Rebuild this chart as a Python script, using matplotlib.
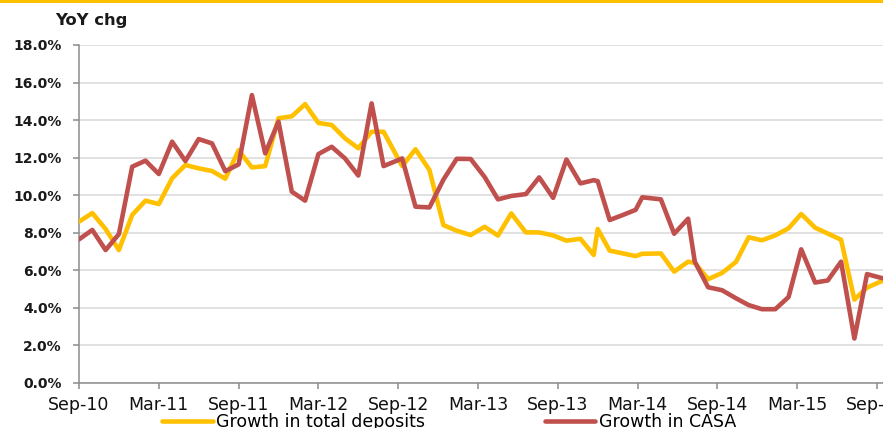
import matplotlib
matplotlib.use("Agg")
import matplotlib.pyplot as plt
from matplotlib.patches import Rectangle
from matplotlib.ticker import FuncFormatter

# ---------------- data ----------------
# x position in months since Sep-10 (reporting dates, slightly irregular)
x_months = [0, 1, 2, 3, 4, 5, 6, 7, 8, 9, 10, 11, 12, 13, 14, 15, 16, 17, 18, 19, 20, 21, 22,
            22.9, 24.3, 25.3, 26.35, 27.4, 28.4, 29.45, 30.5, 31.5, 32.5, 33.6, 34.6, 35.65,
            36.65, 37.7, 38.7, 39.0, 39.9, 40.9, 41.85, 42.35, 43.75, 44.75, 45.8, 46.3, 47.3,
            48.35, 49.4, 50.35, 51.35, 52.35, 53.35, 54.3, 55.35, 56.3, 57.3, 58.3, 59.25, 60.4]

total_deposits = [8.59, 9.05, 8.2, 7.08, 8.95, 9.71, 9.53, 10.9, 11.61, 11.43, 11.29, 10.88,
                  12.39, 11.48, 11.55, 14.1, 14.2, 14.85, 13.85, 13.74, 13.03, 12.5, 13.38,
                  13.38, 11.55, 12.45, 11.34, 8.41, 8.11, 7.88, 8.32, 7.85, 9.03, 8.02, 8.02,
                  7.86, 7.58, 7.68, 6.82, 8.2, 7.05, 6.9, 6.76, 6.88, 6.9, 5.93, 6.46, 6.4,
                  5.53, 5.86, 6.45, 7.76, 7.6, 7.86, 8.24, 9.0, 8.27, 7.96, 7.63, 4.44, 5.08, 5.44]

casa = [7.65, 8.15, 7.08, 7.93, 11.52, 11.84, 11.13, 12.85, 11.82, 12.99, 12.76, 11.28,
        11.64, 15.33, 12.23, 13.92, 10.19, 9.71, 12.19, 12.58, 11.96, 11.05, 14.89,
        11.55, 11.96, 9.39, 9.35, 10.83, 11.94, 11.93, 10.97, 9.78, 9.96, 10.06, 10.95,
        9.86, 11.9, 10.63, 10.8, 10.75, 8.68, 8.95, 9.22, 9.89, 9.78, 7.95, 8.75, 6.46,
        5.1, 4.94, 4.51, 4.15, 3.93, 3.93, 4.58, 7.12, 5.35, 5.46, 6.46, 2.37, 5.8, 5.58]

tick_months = [0, 6, 12, 18, 24, 30, 36, 42, 48, 54, 60]
tick_labels = ["Sep-10", "Mar-11", "Sep-11", "Mar-12", "Sep-12", "Mar-13",
               "Sep-13", "Mar-14", "Sep-14", "Mar-15", "Sep-15"]
y_ticks = [0, 2, 4, 6, 8, 10, 12, 14, 16, 18]

series_names = ["Growth in total deposits", "Growth in CASA"]
c_dep = "#FFC000"
c_casa = "#C0504D"

# ---------------- figure ----------------
W, H = 883, 428
fig = plt.figure(figsize=(W / 100, H / 100), dpi=100)
ax = fig.add_axes([79 / W, 45 / H, 811.3 / W, 338 / H])

l1, = ax.plot(x_months, total_deposits, color=c_dep, lw=3.3,
              solid_joinstyle="round", solid_capstyle="round", zorder=3)
l2, = ax.plot(x_months, casa, color=c_casa, lw=3.3,
              solid_joinstyle="round", solid_capstyle="round", zorder=4)

ax.set_xlim(0, 61)
ax.set_ylim(0, 18)
ax.set_yticks(y_ticks)
ax.yaxis.set_major_formatter(FuncFormatter(lambda v, p: f"{v:.1f}%"))
ax.set_xticks(tick_months)
ax.set_xticklabels(tick_labels)

ax.grid(axis="y", color="#D9D9D9", lw=1.1)
ax.set_axisbelow(True)
for s in ["top", "right"]:
    ax.spines[s].set_visible(False)
for s in ["left", "bottom"]:
    ax.spines[s].set_color("#8C8C8C")
    ax.spines[s].set_linewidth(1.1)

ax.tick_params(axis="y", length=4.5, width=1.1, color="#8C8C8C", pad=8,
               labelsize=10, labelcolor="#1a1a1a")
for t in ax.get_yticklabels():
    t.set_fontweight("bold")
ax.tick_params(axis="x", length=4.5, width=1.1, color="#8C8C8C", pad=4.5,
               labelsize=12.5, labelcolor="#111111")

fig.text(55 / W, 1 - 21 / H, "YoY chg", fontsize=11.8, fontweight="bold",
         ha="left", va="center", color="#1a1a1a")

# top gold rule
fig.add_artist(Rectangle((0, 1 - 3 / H), 1, 3 / H, transform=fig.transFigure,
                         color=c_dep, lw=0))

fig.legend([l1, l2], series_names, loc="center", bbox_to_anchor=(449 / W, 6 / H),
           ncol=2, frameon=False, fontsize=12.5, handlelength=2.9,
           handletextpad=0.2, columnspacing=6.9, borderaxespad=0, borderpad=0)

fig.savefig("out.png", dpi=100)
